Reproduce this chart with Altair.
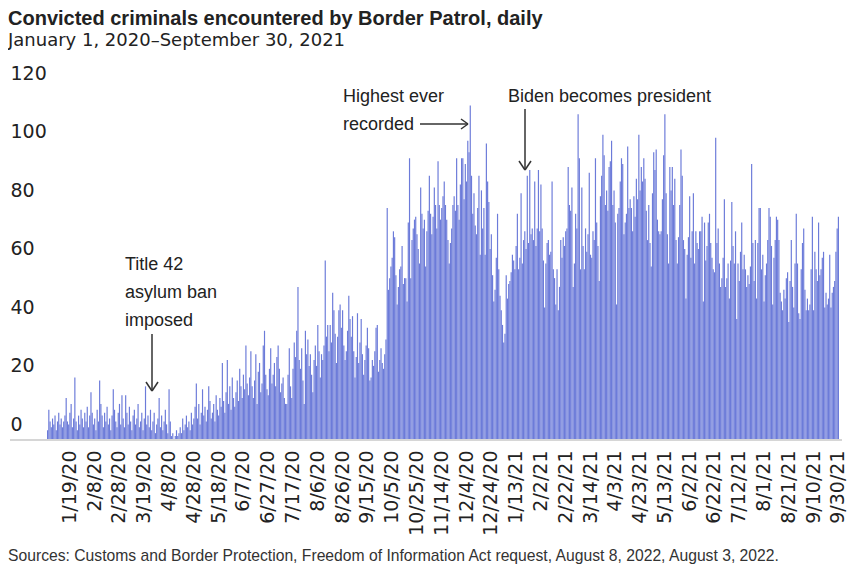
import altair as alt
import pandas as pd

# Daily counts, one list per month
jan20 = [3, 10, 6, 4, 7, 5, 8, 3, 6, 9, 5, 7, 4, 6, 8, 14, 6, 5, 9, 12, 4, 7, 21, 6, 3, 8, 5, 10, 7, 4, 9]
feb20 = [6, 11, 4, 8, 16, 9, 5, 7, 3, 10, 6, 20, 12, 8, 4, 9, 6, 11, 5, 7, 3, 8, 17, 10, 6, 4, 9, 12, 5]
mar20 = [15, 7, 4, 15, 9, 5, 11, 6, 3, 8, 10, 5, 7, 12, 4, 6, 9, 3, 7, 18, 5, 8, 4, 10, 3, 6, 9, 2, 5, 7, 14]
apr20 = [4, 8, 3, 6, 10, 5, 2, 17, 6, 1, 2, 0, 1, 3, 1, 2, 4, 2, 7, 3, 5, 8, 4, 6, 3, 9, 5, 7, 11, 19]
may20 = [7, 12, 5, 9, 17, 8, 11, 6, 10, 18, 13, 7, 9, 12, 6, 15, 10, 8, 14, 11, 26, 13, 9, 16, 27, 12, 18, 10, 21, 14, 11]
jun20 = [16, 20, 13, 24, 18, 14, 22, 17, 32, 19, 15, 21, 30, 18, 14, 20, 29, 12, 23, 26, 16, 19, 32, 37, 22, 17, 15, 24, 31, 19]
jul20 = [22, 26, 18, 28, 32, 24, 16, 19, 21, 14, 12, 12, 22, 31, 18, 14, 24, 33, 28, 37, 52, 27, 24, 31, 20, 12, 37, 29, 34, 25, 29]
aug20 = [22, 16, 27, 32, 25, 39, 30, 21, 29, 27, 32, 61, 35, 39, 30, 39, 33, 50, 44, 36, 26, 35, 44, 46, 38, 44, 32, 27, 30, 37, 49]
sep20 = [41, 35, 42, 30, 21, 28, 43, 26, 33, 41, 29, 22, 27, 32, 38, 31, 20, 21, 27, 25, 30, 38, 39, 23, 27, 31, 26, 24, 29, 34]
oct20 = [79, 51, 55, 59, 62, 71, 69, 56, 46, 52, 58, 59, 66, 53, 55, 55, 47, 74, 96, 55, 68, 72, 75, 76, 70, 65, 60, 86, 77, 72, 75]
nov20 = [59, 71, 78, 90, 77, 70, 76, 86, 80, 72, 95, 80, 75, 79, 83, 88, 80, 75, 68, 60, 67, 72, 80, 83, 78, 96, 80, 75, 87, 96]
dec20 = [96, 82, 94, 88, 102, 98, 114, 90, 77, 84, 73, 70, 79, 90, 63, 85, 72, 79, 63, 101, 88, 81, 65, 70, 56, 47, 51, 62, 77, 58, 49]
jan21 = [44, 39, 33, 36, 56, 48, 53, 54, 57, 63, 61, 58, 66, 77, 58, 62, 84, 60, 68, 71, 65, 90, 67, 92, 70, 72, 68, 88, 66, 72, 92]
feb21 = [71, 87, 72, 61, 45, 60, 67, 68, 63, 64, 88, 58, 55, 46, 58, 44, 52, 68, 62, 69, 66, 71, 72, 93, 80, 78, 86, 52]
mar21 = [60, 77, 72, 111, 96, 58, 86, 66, 58, 72, 64, 70, 91, 63, 62, 71, 68, 96, 74, 66, 54, 83, 90, 104, 97, 80, 85, 78, 93, 95, 102]
apr21 = [80, 85, 74, 46, 77, 79, 88, 96, 94, 70, 74, 77, 100, 79, 82, 79, 71, 83, 76, 89, 82, 104, 85, 93, 88, 96, 89, 78, 68, 80]
may21 = [67, 59, 84, 98, 92, 99, 75, 71, 70, 71, 82, 97, 111, 84, 70, 60, 93, 85, 93, 80, 89, 68, 60, 69, 80, 99, 90, 68, 65, 48, 63]
jun21 = [69, 83, 62, 71, 84, 60, 71, 67, 65, 71, 71, 76, 47, 74, 61, 66, 74, 77, 67, 62, 58, 57, 103, 67, 72, 60, 52, 55, 62, 82]
jul21 = [52, 55, 60, 48, 61, 81, 66, 60, 71, 41, 60, 54, 64, 74, 58, 63, 58, 52, 56, 53, 59, 94, 67, 54, 68, 48, 67, 79, 79, 58, 63]
aug21 = [47, 56, 60, 68, 79, 76, 66, 46, 62, 68, 76, 75, 68, 50, 47, 44, 51, 48, 55, 57, 40, 54, 68, 52, 45, 60, 77, 60, 43, 41, 58]
sep21 = [67, 72, 51, 44, 48, 44, 46, 58, 76, 44, 64, 58, 54, 74, 56, 58, 62, 64, 45, 50, 46, 48, 63, 45, 50, 52, 54, 64, 72, 76]

tick_labels = ["1/19/20", "2/8/20", "2/28/20", "3/19/20", "4/8/20", "4/28/20", "5/18/20",
               "6/7/20", "6/27/20", "7/17/20", "8/6/20", "8/26/20", "9/15/20", "10/5/20",
               "10/25/20", "11/14/20", "12/4/20", "12/24/20", "1/13/21", "2/2/21", "2/22/21",
               "3/14/21", "4/3/21", "4/23/21", "5/13/21", "6/2/21", "6/22/21", "7/12/21",
               "8/1/21", "8/21/21", "9/10/21", "9/30/21"]
y_ticks = [0, 20, 40, 60, 80, 100, 120]

title_text = "Convicted criminals encountered by Border Patrol, daily"
subtitle_text = "January 1, 2020\u2013September 30, 2021"
source_text = "Sources: Customs and Border Protection, Freedom of Information Act request, August 8, 2022, August 3, 2022."

values = (jan20 + feb20 + mar20 + apr20 + may20 + jun20 + jul20 + aug20 + sep20 + oct20
          + nov20 + dec20 + jan21 + feb21 + mar21 + apr21 + may21 + jun21 + jul21 + aug21 + sep21)
dates = pd.date_range("2020-01-01", "2021-09-30", freq="D")
date_labels = [f"{d.month}/{d.day}/{d.year % 100:02d}" for d in dates]
df = pd.DataFrame({"date": date_labels, "value": values})

W, H = 792, 351
TXT = "#222222"

bars = alt.Chart(df).mark_bar(color="#6c7bd9").encode(
    x=alt.X("date:O", sort=None,
            scale=alt.Scale(paddingInner=0.05, paddingOuter=0),
            axis=alt.Axis(values=tick_labels, labelAngle=270, domain=False, ticks=False,
                          tickSize=0, labelPadding=11, labelFont="DejaVu Sans",
                          labelFontSize=19, labelColor=TXT, labelOverlap=False, title=None)),
    y=alt.Y("value:Q", scale=alt.Scale(domain=[0, 120], nice=False),
            axis=alt.Axis(values=y_ticks, grid=False, domain=False, ticks=False, tickSize=0,
                          labelAlign="left", labelPadding=37, labelBaseline="bottom",
                          labelOffset=-5, labelFont="DejaVu Sans", labelFontSize=19,
                          labelColor=TXT, title=None)),
)

one = alt.Data(values=[{}])

baseline = alt.Chart(one).mark_rule(color="#c8c8c8", strokeWidth=1.5).encode(
    x=alt.value(-37), x2=alt.value(W + 3), y=alt.value(H + 1))


def label(text, x, y, size=18, weight="normal", font="Liberation Sans", color=TXT):
    return alt.Chart(one).mark_text(
        align="left", baseline="alphabetic", font=font, fontSize=size,
        fontWeight=weight, color=color, lineHeight=28,
    ).encode(x=alt.value(x), y=alt.value(y), text=alt.value(text))


def seg(x1, y1, x2, y2):
    return alt.Chart(one).mark_rule(color="#333333", strokeWidth=1.5).encode(
        x=alt.value(x1), y=alt.value(y1), x2=alt.value(x2), y2=alt.value(y2))


texts = [
    label(title_text, -39, -63, size=20, weight="bold"),
    label(subtitle_text, -39, -42, size=18, font="DejaVu Sans"),
    label(["Title 42", "asylum ban", "imposed"], 78, 181.5),
    label(["Highest ever", "recorded"], 296, 14),
    label("Biden becomes president", 461, 14),
    label(source_text, -39, 472.5, size=15.7, color="#333333"),
]

arrows = [
    seg(105, 246, 105, 303), seg(99, 294, 105, 303), seg(111, 294, 105, 303),
    seg(373, 36, 421, 36), seg(414, 31, 421, 36), seg(414, 41, 421, 36),
    seg(478, 21, 478, 82), seg(472, 73, 478, 82), seg(484, 73, 478, 82),
]

chart = alt.layer(bars, baseline, *texts, *arrows).properties(
    width=W, height=H,
    padding={"left": 39, "top": 80, "right": 18, "bottom": 132},
    autosize=alt.AutoSizeParams(type="none"),
).configure_view(stroke=None)

chart.save("out.html", embed_options={"renderer": "svg", "actions": False})
